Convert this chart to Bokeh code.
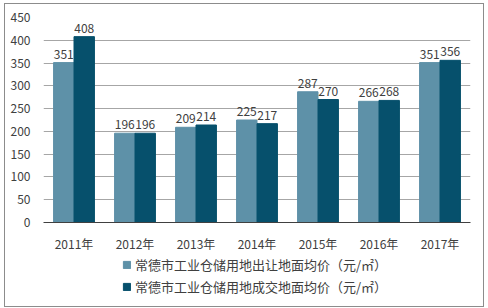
from bokeh.plotting import figure
from bokeh.layouts import column
from bokeh.models import ColumnDataSource, Legend, LegendItem, FactorRange, SingleIntervalTicker, LabelSet
from bokeh.core.properties import value
from bokeh.transform import dodge
from bokeh.embed import file_html
from bokeh.resources import INLINE

years = ["2011年", "2012年", "2013年", "2014年", "2015年", "2016年", "2017年"]
transfer = [351, 196, 209, 225, 287, 266, 351]
deal = [408, 196, 214, 217, 270, 268, 356]
series_names = ["常德市工业仓储用地出让地面均价（元/㎡）", "常德市工业仓储用地成交地面均价（元/㎡）"]

FONT = "Noto Sans CJK SC"
C1 = "#5e91a8"
C2 = "#06506c"
TXT = "#404040"

src = ColumnDataSource(dict(year=years, a=transfer, b=deal,
                            la=[str(v) for v in transfer], lb=[str(v) for v in deal]))

p = figure(x_range=FactorRange(*years), y_range=(0, 450),
           frame_width=427, frame_height=205,
           output_backend="svg", toolbar_location=None,
           min_border_left=38, min_border_right=13, min_border_top=13, min_border_bottom=26)
p.outline_line_color = None

w = 0.335
r1 = p.vbar(x=dodge("year", -w / 2, range=p.x_range), top="a", width=w, source=src, color=C1)
r2 = p.vbar(x=dodge("year", w / 2, range=p.x_range), top="b", width=w, source=src, color=C2)

for col, lab, off in (("a", "la", -w / 2), ("b", "lb", w / 2)):
    ls = LabelSet(x=dodge("year", off, range=p.x_range), y=col, text=lab, source=src,
                  text_align="center", text_baseline="bottom", y_offset=4,
                  text_font=value(FONT), text_font_size="12px", text_color=TXT)
    p.add_layout(ls)

p.yaxis.ticker = SingleIntervalTicker(interval=50)
p.yaxis.axis_line_color = None
p.yaxis.major_tick_line_color = None
p.yaxis.minor_tick_line_color = None
p.yaxis.major_label_text_font = FONT
p.yaxis.major_label_text_font_size = "12px"
p.yaxis.major_label_text_color = TXT
p.yaxis.major_label_standoff = 7

p.xaxis.axis_line_color = "#404040"
p.xaxis.axis_line_width = 1.2
p.xaxis.major_tick_line_color = None
p.xaxis.minor_tick_line_color = None
p.xaxis.major_label_text_font = FONT
p.xaxis.major_label_text_font_size = "12px"
p.xaxis.major_label_text_color = TXT
p.xaxis.major_label_standoff = 6
p.x_range.range_padding = 0.0
p.x_range.group_padding = 0.0

p.xgrid.grid_line_color = None
p.ygrid.grid_line_color = "#a6a6a6"

# legend-only panel below the chart (frame aligned with the chart's frame)
lf = figure(width=478, height=52, x_range=(0, 1), y_range=(0, 1),
            x_axis_type=None, y_axis_type=None, output_backend="svg",
            toolbar_location=None, min_border=0)
lf.outline_line_color = None
lf.grid.grid_line_color = None
d1 = lf.vbar(x=[-5], top=[-5], width=0.1, color=C1)
d2 = lf.vbar(x=[-5], top=[-5], width=0.1, color=C2)
legend = Legend(items=[LegendItem(label=series_names[0], renderers=[d1]),
                       LegendItem(label=series_names[1], renderers=[d2])],
                orientation="vertical", location=(79, 10),
                label_text_font=FONT, label_text_font_size="13px", label_text_color=TXT,
                glyph_width=9, glyph_height=9, spacing=3, padding=0, margin=0,
                border_line_color=None, background_fill_alpha=0, label_standoff=4)
lf.add_layout(legend, "center")

layout = column(p, lf, spacing=0)
layout.styles = {"border": "1px solid #8c8c8c", "margin": "3px 4px 5px 4px"}

open("out.html", "w").write(file_html(layout, INLINE))
